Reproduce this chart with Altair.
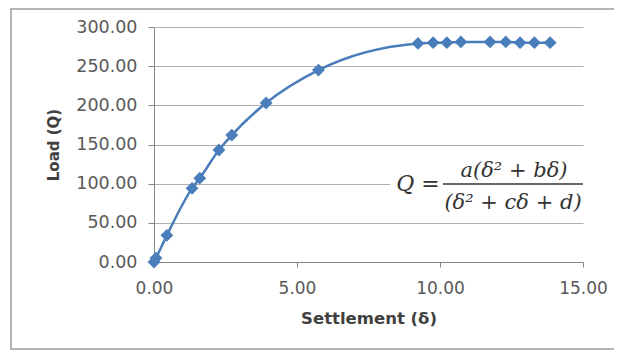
import altair as alt
import pandas as pd

# Data
settlement = [0.0, 0.07, 0.45, 1.33, 1.6, 2.27, 2.72, 3.92, 5.75,
              9.23, 9.76, 10.24, 10.73, 11.75, 12.3, 12.8, 13.3, 13.85]
load = [0, 5, 34, 94, 107, 143, 162, 203, 245,
        279, 280, 280, 281, 281, 281, 280, 280, 280]
x_ticks = [0, 5, 10, 15]
y_ticks = [0, 50, 100, 150, 200, 250, 300]

df = pd.DataFrame({"s": settlement, "q": load})

BLUE = "#4a7ebb"
W, H = 429, 235

x = alt.X("s:Q", title="Settlement (δ)",
          scale=alt.Scale(domain=[0, 15], nice=False),
          axis=alt.Axis(values=x_ticks, format=".2f", grid=False,
                        tickSize=5, labelPadding=13, titlePadding=14,
                        labelFlush=False, labelOverlap=False,
                        labelFontSize=17, titleFontSize=16.5))
y = alt.Y("q:Q", title="Load (Q)",
          scale=alt.Scale(domain=[0, 300], nice=False),
          axis=alt.Axis(values=y_ticks, tickCount=7, format=".2f", grid=True,
                        tickSize=6, labelPadding=11, titlePadding=14,
                        labelFlush=False, labelOverlap=False, labelBound=False,
                        labelFontSize=17.5, titleFontSize=15))

base = alt.Chart(df).encode(x=x, y=y)

line = base.mark_line(color=BLUE, strokeWidth=2.5, interpolate="monotone")
pts = base.mark_point(shape="diamond", filled=True, size=165, color=BLUE, opacity=1)

# outer frame
frame = alt.Chart(pd.DataFrame({"k": [0]})).mark_rect(
    fill=None, stroke="#9a9a9a", strokeWidth=1.5
).encode(x=alt.value(-143), x2=alt.value(463), y=alt.value(-18), y2=alt.value(322))

# equation annotation
ann = alt.Chart(pd.DataFrame({"k": [0]}))
eq_bg = ann.mark_rect(fill="white").encode(
    x=alt.value(236), x2=alt.value(433), y=alt.value(126), y2=alt.value(192))
eq_font = dict(font="DejaVu Serif", fontStyle="italic", color="#333333")
q_txt = ann.mark_text(text="Q =", fontSize=22, align="center", baseline="alphabetic", **eq_font).encode(
    x=alt.value(264), y=alt.value(164))
num = ann.mark_text(text="a(δ² + bδ)", fontSize=21, align="center", baseline="alphabetic", **eq_font).encode(
    x=alt.value(360), y=alt.value(150))
den = ann.mark_text(text="(δ² + cδ + d)", fontSize=21, align="center", baseline="alphabetic", **eq_font).encode(
    x=alt.value(359), y=alt.value(182))
bar = ann.mark_rule(color="#333333", strokeWidth=1.3).encode(
    x=alt.value(289), x2=alt.value(429), y=alt.value(157))

chart = alt.layer(frame, line, pts, eq_bg, q_txt, num, den, bar).properties(
    width=W, height=H,
    autosize=alt.AutoSizeParams(type="none"),
    padding={"left": 146, "top": 19, "right": 31, "bottom": 88},
).configure_view(stroke=None).configure_axis(
    labelFont="DejaVu Sans", titleFont="DejaVu Sans",
    labelColor="#595959", titleColor="#404040", titleFontWeight="bold",
    domainColor="#868686", tickColor="#868686", gridColor="#b0b0b0",
    domainWidth=1, gridWidth=1,
).configure_axisY(titleAngle=-90)

chart.save("out.html", embed_options={"renderer": "svg", "actions": False})
